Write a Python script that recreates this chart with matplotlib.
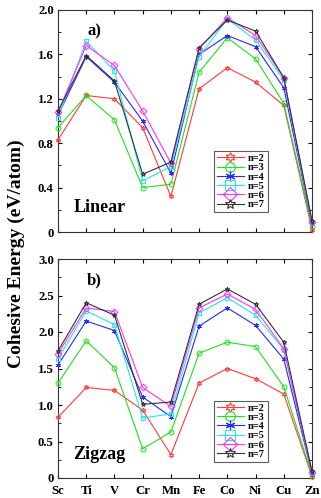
import matplotlib
matplotlib.use("Agg")
import matplotlib.pyplot as plt
from matplotlib.ticker import MultipleLocator

elements = ["Sc", "Ti", "V", "Cr", "Mn", "Fe", "Co", "Ni", "Cu", "Zn"]
labels = ["n=2", "n=3", "n=4", "n=5", "n=6", "n=7"]

linear_n2 = [0.83, 1.23, 1.20, 0.94, 0.32, 1.29, 1.48, 1.35, 1.14, 0.02]
linear_n3 = [0.94, 1.23, 1.01, 0.40, 0.43, 1.44, 1.75, 1.56, 1.16, 0.05]
linear_n4 = [1.05, 1.58, 1.35, 1.00, 0.53, 1.60, 1.77, 1.67, 1.30, 0.07]
linear_n5 = [1.03, 1.72, 1.45, 0.46, 0.59, 1.58, 1.92, 1.73, 1.37, 0.08]
linear_n6 = [1.08, 1.68, 1.50, 1.09, 0.62, 1.65, 1.93, 1.77, 1.39, 0.09]
linear_n7 = [1.09, 1.59, 1.36, 0.52, 0.63, 1.66, 1.91, 1.81, 1.39, 0.10]

zigzag_n2 = [0.83, 1.24, 1.20, 0.93, 0.32, 1.30, 1.50, 1.36, 1.15, 0.02]
zigzag_n3 = [1.30, 1.88, 1.51, 0.40, 0.63, 1.71, 1.86, 1.80, 1.25, 0.04]
zigzag_n4 = [1.55, 2.15, 2.02, 1.11, 0.84, 2.08, 2.33, 2.09, 1.63, 0.06]
zigzag_n5 = [1.63, 2.29, 2.10, 0.82, 0.88, 2.26, 2.47, 2.23, 1.76, 0.07]
zigzag_n6 = [1.70, 2.33, 2.28, 1.24, 0.98, 2.33, 2.52, 2.31, 1.77, 0.08]
zigzag_n7 = [1.74, 2.40, 2.23, 1.01, 1.04, 2.38, 2.59, 2.38, 1.86, 0.09]

top_ticks = [0, 0.4, 0.8, 1.2, 1.6, 2.0]
top_ticklabels = ["0", "0.4", "0.8", "1.2", "1.6", "2.0"]
bottom_ticks = [0, 0.5, 1.0, 1.5, 2.0, 2.5, 3.0]
bottom_ticklabels = ["0", "0.5", "1.0", "1.5", "2.0", "2.5", "3.0"]

colors = ["#ff3b3b", "#22e022", "#2828ff", "#22e8e8", "#ff33ff", "#333333"]
markers = [(6, 1, 0), "o", (6, 2, 0), "s", "D", "*"]

serif = ["Liberation Serif", "DejaVu Serif"]
plt.rcParams["font.family"] = serif
plt.rcParams["font.weight"] = "bold"

fig = plt.figure(figsize=(3.21, 4.98), dpi=100)
W, H = 321, 498
ax1 = fig.add_axes([58 / W, 1 - 232 / H, 254 / W, 222 / H])
ax2 = fig.add_axes([58 / W, 1 - 478 / H, 254 / W, 219 / H])

x = list(range(len(elements)))


def draw(ax, series, ymax, ticks, ticklabels, minor, panel, name, anchor):
    handles = []
    for s, c, m, lab in zip(series, colors, markers, labels):
        ax.plot(x, s, color=c, lw=0.8, marker=m, ms=3.5, mfc="none", mec=c, mew=0.7,
                clip_on=False, zorder=3)
        h, = ax.plot([], [], color=c, lw=0.8, marker=m, ms=7, mfc="none", mec=c, mew=0.8, label=lab)
        handles.append(h)
    ax.set_xlim(0, 9)
    ax.set_ylim(0, ymax)
    ax.set_yticks(ticks)
    ax.set_yticklabels(ticklabels, fontweight="bold")
    ax.yaxis.set_minor_locator(MultipleLocator(minor))
    ax.set_xticks(x)
    ax.tick_params(axis="both", which="both", direction="in", top=True, right=True,
                   labelsize=9.2)
    ax.tick_params(axis="y", pad=3)
    ax.tick_params(axis="x", pad=5)
    ax.tick_params(which="major", length=3)
    ax.tick_params(which="minor", length=2)
    for sp in ax.spines.values():
        sp.set_linewidth(0.8)
        sp.set_color("#333333")
    ax.text(0.115, 0.94, panel, transform=ax.transAxes, fontsize=12, fontweight="bold",
            ha="left", va="top")
    ax.text(0.06, 0.07, name, transform=ax.transAxes, fontsize=13, fontweight="bold",
            ha="left", va="bottom")
    leg = ax.legend(handles=handles, loc="lower right", bbox_to_anchor=anchor,
                    frameon=True, fancybox=False, handlelength=2.6,
                    handletextpad=0.4, borderpad=0.25, labelspacing=0.0,
                    borderaxespad=0.0,
                    prop={"family": serif, "size": 7.5})
    leg.get_frame().set_edgecolor("#333333")
    leg.get_frame().set_linewidth(0.8)


draw(ax1, [linear_n2, linear_n3, linear_n4, linear_n5, linear_n6, linear_n7],
     2.0, top_ticks, top_ticklabels, 0.2, "a)", "Linear", (0.825, 0.09))
ax1.set_xticklabels([])
draw(ax2, [zigzag_n2, zigzag_n3, zigzag_n4, zigzag_n5, zigzag_n6, zigzag_n7],
     3.0, bottom_ticks, bottom_ticklabels, 0.25, "b)", "Zigzag", (0.825, 0.075))
ax2.set_xticklabels(elements, fontweight="bold")

fig.text(0.05, 0.49, "Cohesive Energy (eV/atom)", rotation=90, ha="center", va="center",
         fontsize=14, fontweight="bold")

fig.savefig("out.png", dpi=100)
